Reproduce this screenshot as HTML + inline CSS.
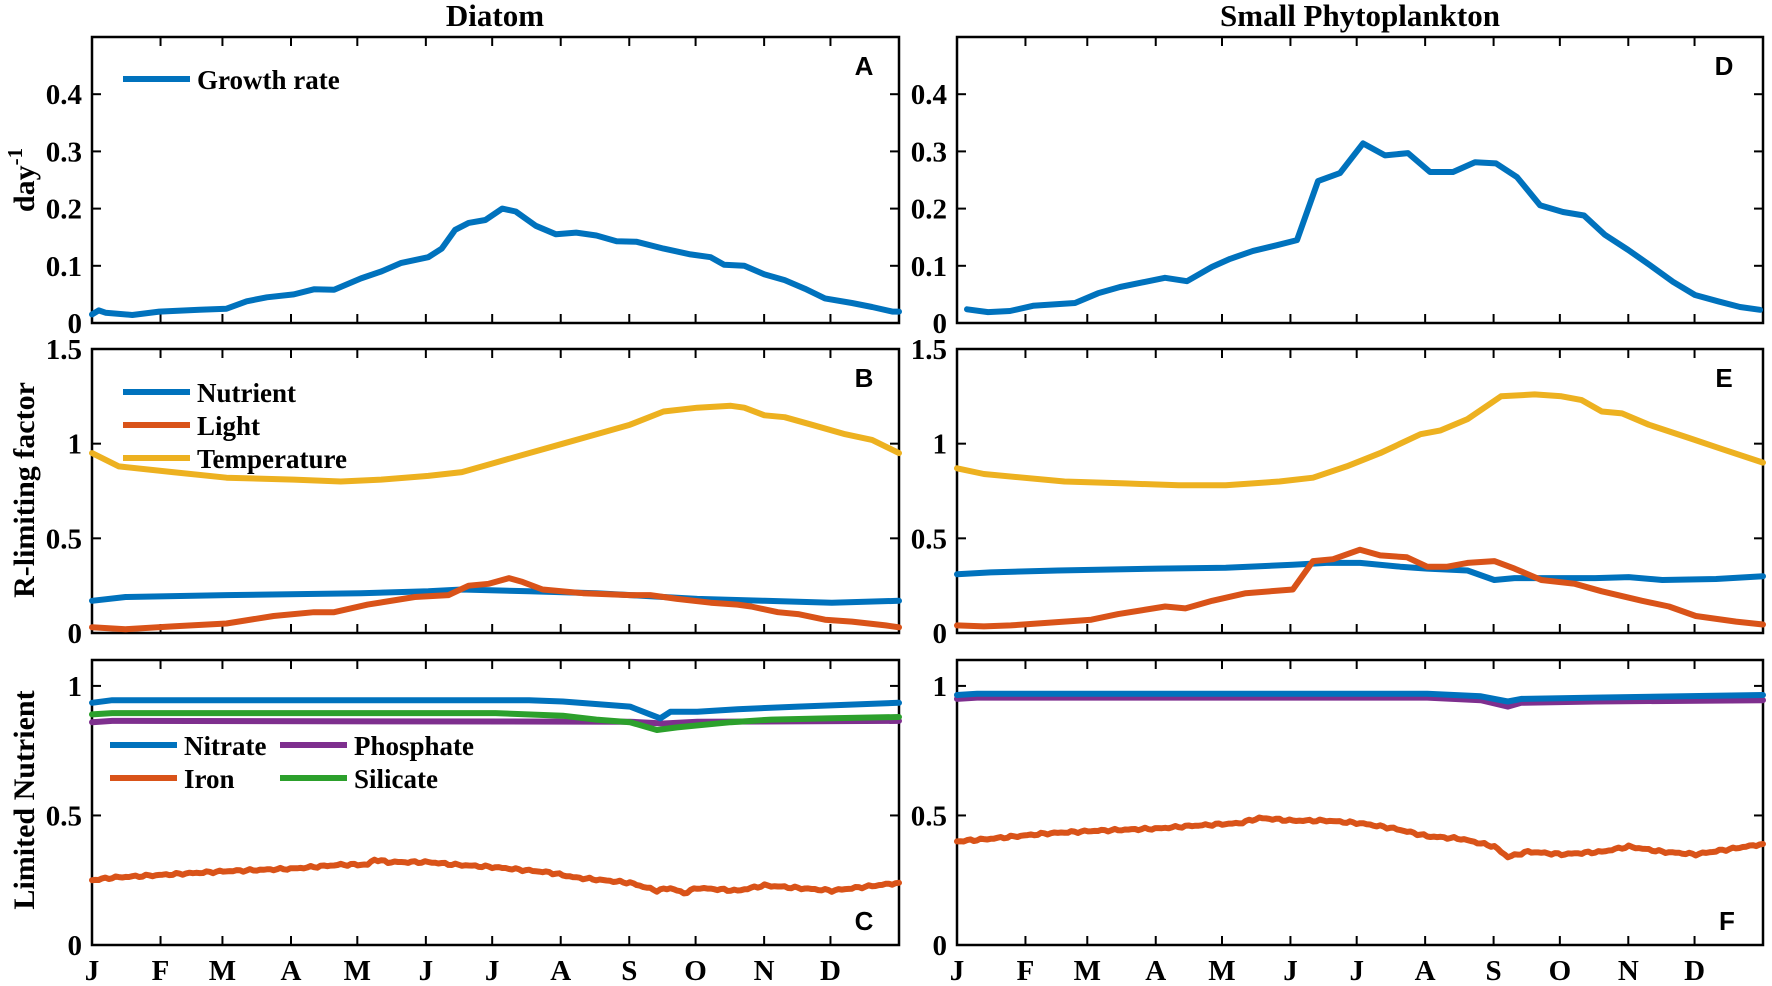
<!DOCTYPE html>
<html><head><meta charset="utf-8"><style>
body{margin:0;background:#fff;}
svg{display:block;}
text{font-family:"Liberation Serif",serif;font-weight:bold;fill:#000;}
.s{font-family:"Liberation Sans",sans-serif;}
</style></head><body>
<svg id="c" width="1772" height="986" xmlns="http://www.w3.org/2000/svg"></svg>
<script>
const S=document.getElementById('c');let h='';
const B='#0072BD',O='#D95319',Y='#EDB120',P='#7E2F8E',G='#2CA02C';
const days=[0,31,59,90,120,151,181,212,243,273,304,334];
const ML=['J','F','M','A','M','J','J','A','S','O','N','D'];
function panel(x0,x1,yTop,yBot,ymax,ticks,labels,labx,letter,bottom){
  const W=x1-x0,H=yBot-yTop;
  const f={X:m=>x0+m/12*W,Y:v=>yBot-v/ymax*H};
  h+=`<rect x="${x0}" y="${yTop}" width="${W}" height="${H}" fill="none" stroke="#000" stroke-width="2.5"/>`;
  days.forEach((d,i)=>{if(i==0)return;const x=x0+d/365*W;h+=`<line x1="${x}" y1="${yTop}" x2="${x}" y2="${yTop+9}" stroke="#000" stroke-width="2"/><line x1="${x}" y1="${yBot}" x2="${x}" y2="${yBot-9}" stroke="#000" stroke-width="2"/>`;});
  ticks.forEach((t,i)=>{const y=f.Y(t);h+=`<line x1="${x0}" y1="${y}" x2="${x0+9}" y2="${y}" stroke="#000" stroke-width="2"/><line x1="${x1}" y1="${y}" x2="${x1-9}" y2="${y}" stroke="#000" stroke-width="2"/>`;
    h+=`<text x="${x0-10}" y="${y+10}" font-size="29" text-anchor="end">${labels[i]}</text>`;});
  const ly=bottom?yBot-15:yTop+38;
  h+=`<text class="s" x="${labx}" y="${ly}" font-size="26" text-anchor="middle">${letter}</text>`;
  return f;
}
function line(f,pts,col,jit){
  let arr=[];
  for(let i=0;i<pts.length-1;i++){const [a,va]=pts[i],[b,vb]=pts[i+1];const n=jit?Math.max(2,Math.round((b-a)*20)):1;
    for(let k=0;k<n;k++){const t=k/n;let v=va+(vb-va)*t;if(jit){const m=a+t*(b-a);v+=(Math.sin(m*97)*0.3+Math.sin(m*41)*0.3)*jit;}arr.push(f.X(a+(b-a)*t).toFixed(1)+','+f.Y(v).toFixed(1));}}
  const l=pts[pts.length-1];arr.push(f.X(l[0]).toFixed(1)+','+f.Y(l[1]).toFixed(1));
  h+=`<polyline points="${arr.join(' ')}" fill="none" stroke="${col}" stroke-width="6" stroke-linejoin="round" stroke-linecap="round"/>`;
}
function leg(x,y,col,txt){h+=`<line x1="${x}" y1="${y}" x2="${x+67}" y2="${y}" stroke="${col}" stroke-width="6"/><text x="${x+74}" y="${y+10}" font-size="27">${txt}</text>`;}
const L0=92,L1=899,R0=957,R1=1763;
let fa=panel(L0,L1,37,323,0.5,[0,0.1,0.2,0.3,0.4],['0','0.1','0.2','0.3','0.4'],864,'A');
line(fa,[[0,0.015],[0.1,0.022],[0.2,0.018],[0.6,0.014],[1,0.02],[1.6,0.023],[2,0.025],[2.3,0.038],[2.6,0.045],[3,0.05],[3.3,0.059],[3.6,0.058],[4,0.078],[4.3,0.09],[4.6,0.105],[5,0.115],[5.2,0.13],[5.4,0.163],[5.6,0.175],[5.85,0.18],[6.1,0.2],[6.3,0.195],[6.6,0.17],[6.9,0.155],[7.2,0.158],[7.5,0.153],[7.8,0.143],[8.1,0.142],[8.5,0.13],[8.9,0.12],[9.2,0.115],[9.4,0.102],[9.7,0.1],[10,0.085],[10.3,0.075],[10.6,0.06],[10.9,0.043],[11.3,0.035],[11.6,0.028],[11.9,0.02],[12,0.02]],B);
leg(123,79,B,'Growth rate');
let fd=panel(R0,R1,37,323,0.5,[0,0.1,0.2,0.3,0.4],['0','0.1','0.2','0.3','0.4'],1724,'D');
const dp=[[967,.024],[988,.019],[1010,.021],[1033,.03],[1075,.035],[1098,.052],[1120,.063],[1165,.079],[1187,.073],[1212,.098],[1230,.112],[1253,.126],[1277,.136],[1297,.145],[1318,.248],[1340,.262],[1363,.314],[1385,.293],[1408,.297],[1430,.264],[1453,.264],[1475,.281],[1496,.279],[1517,.255],[1540,.206],[1563,.194],[1584,.188],[1605,.154],[1628,.128],[1650,.101],[1673,.072],[1695,.049],[1718,.038],[1740,.028],[1760,.023]].map(p=>[(p[0]-R0)/(R1-R0)*12,p[1]]);
line(fd,dp,B);
let fb=panel(L0,L1,349,633,1.5,[0,0.5,1,1.5],['0','0.5','1','1.5'],864,'B');
line(fb,[[0,.95],[.4,.88],[1.2,.85],[2,.82],[3,.81],[3.7,.8],[4.3,.81],[5,.83],[5.5,.85],[6,.9],[6.5,.95],[7,1.0],[7.5,1.05],[8,1.1],[8.5,1.17],[9,1.19],[9.5,1.2],[9.7,1.19],[10,1.15],[10.3,1.14],[10.7,1.1],[11.2,1.05],[11.6,1.02],[12,.95]],Y);
line(fb,[[0,.17],[.5,.19],[2,.2],[4,.21],[5,.22],[5.5,.23],[6.5,.22],[7.5,.21],[8.5,.19],[9,.18],[10,.17],[11,.16],[12,.17]],B);
line(fb,[[0,.03],[.5,.02],[1.2,.035],[2,.05],[2.7,.09],[3.3,.11],[3.6,.11],[4.1,.15],[4.8,.19],[5.3,.2],[5.6,.25],[5.9,.26],[6.2,.29],[6.4,.27],[6.7,.23],[7.3,.21],[8,.2],[8.3,.2],[8.7,.18],[9.2,.16],[9.6,.15],[9.8,.14],[10.2,.11],[10.5,.1],[10.9,.07],[11.3,.06],[11.8,.04],[12,.03]],O);
leg(123,392,B,'Nutrient');leg(123,425,O,'Light');leg(123,458,Y,'Temperature');
let fe=panel(R0,R1,349,633,1.5,[0,0.5,1,1.5],['0','0.5','1','1.5'],1724,'E');
line(fe,[[0,.87],[.4,.84],[1.6,.8],[2.5,.79],[3.3,.78],[4,.78],[4.8,.8],[5.3,.82],[5.8,.88],[6.3,.95],[6.9,1.05],[7.2,1.07],[7.6,1.13],[8.1,1.25],[8.6,1.26],[9,1.25],[9.3,1.23],[9.6,1.17],[9.9,1.16],[10.3,1.1],[10.9,1.03],[11.4,.97],[12,.9]],Y);
line(fe,[[0,.31],[.5,.32],[1.5,.33],[3,.34],[4,.345],[5,.36],[5.5,.37],[6,.37],[6.6,.35],[7,.34],[7.6,.33],[8,.28],[8.3,.29],[9.5,.29],[10,.295],[10.5,.28],[11.3,.285],[12,.3]],B);
line(fe,[[0,.04],[.4,.035],[.8,.04],[2,.07],[2.4,.1],[3.1,.14],[3.4,.13],[3.8,.17],[4.3,.21],[5,.23],[5.3,.38],[5.6,.39],[6,.44],[6.3,.41],[6.7,.4],[7,.35],[7.3,.35],[7.6,.37],[8,.38],[8.3,.34],[8.7,.28],[9.2,.26],[9.6,.22],[10.2,.17],[10.6,.14],[11,.09],[11.6,.06],[12,.045]],O);
let fc=panel(L0,L1,660,945,1.1,[0,0.5,1],['0','0.5','1'],864,'C',true);
line(fc,[[0,.86],[.3,.865],[8,.862],[8.5,.855],[9,.862],[12,.865]],P);
line(fc,[[0,.89],[.3,.895],[6,.895],[7,.885],[7.5,.87],[8,.86],[8.4,.83],[8.7,.84],[9.5,.86],[10.1,.87],[11,.875],[12,.88]],G);
line(fc,[[0,.935],[.3,.945],[6.5,.945],[7,.94],[8,.92],[8.3,.89],[8.45,.875],[8.6,.9],[9,.9],[9.6,.91],[10.5,.92],[12,.935]],B);
line(fc,[[0,.25],[.3,.26],[1,.27],[2,.285],[3,.295],[3.7,.31],[4.1,.31],[4.2,.33],[4.4,.32],[5,.32],[5.4,.31],[6,.3],[6.8,.28],[7.2,.26],[8,.24],[8.4,.21],[8.6,.22],[8.8,.2],[9,.22],[9.6,.21],[10,.23],[10.5,.22],[11,.21],[11.5,.225],[12,.24]],O,0.008);
leg(110,745,B,'Nitrate');leg(280,745,P,'Phosphate');leg(110,778,O,'Iron');leg(280,778,G,'Silicate');
let ff=panel(R0,R1,660,945,1.1,[0,0.5,1],['0','0.5','1'],1727,'F',true);
line(ff,[[0,.95],[.3,.955],[7,.955],[7.8,.945],[8.2,.92],[8.4,.935],[9.5,.94],[12,.945]],P);
line(ff,[[0,.965],[.3,.97],[7,.97],[7.8,.96],[8.2,.94],[8.4,.95],[9.5,.955],[12,.965]],B);
line(ff,[[0,.4],[.5,.41],[1.3,.43],[2,.44],[3,.45],[3.5,.46],[4.2,.47],[4.5,.49],[5,.48],[5.5,.48],[6,.47],[6.5,.45],[7,.42],[7.5,.41],[8,.38],[8.2,.34],[8.5,.36],[9,.35],[9.6,.36],[10,.38],[10.5,.36],[11,.35],[11.5,.37],[12,.39]],O,0.008);
[[L0,L1],[R0,R1]].forEach(([a,b])=>{days.forEach((d,i)=>{const x=a+d/365*(b-a);h+=`<text x="${x}" y="980" font-size="29" text-anchor="middle">${ML[i]}</text>`;});});
h+=`<text x="495" y="26" font-size="31" text-anchor="middle">Diatom</text>`;
h+=`<text x="1360" y="26" font-size="31" text-anchor="middle">Small Phytoplankton</text>`;
h+=`<text transform="translate(34,180) rotate(-90)" font-size="30" text-anchor="middle">day<tspan dy="-12" font-size="21">-1</tspan></text>`;
h+=`<text transform="translate(34,490) rotate(-90)" font-size="30" text-anchor="middle">R-limiting factor</text>`;
h+=`<text transform="translate(34,800) rotate(-90)" font-size="30" text-anchor="middle">Limited Nutrient</text>`;
S.innerHTML=h;
</script>
</body></html>
